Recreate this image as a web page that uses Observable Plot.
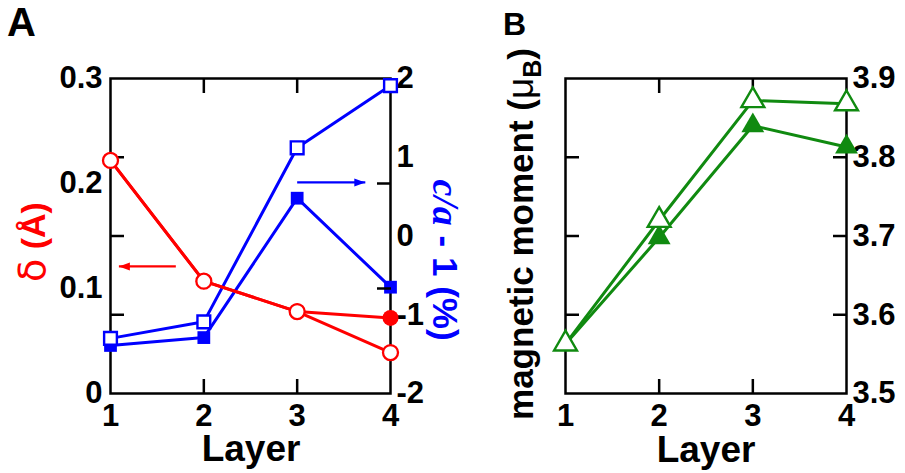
<!DOCTYPE html>
<html><head><meta charset="utf-8">
<script src="https://cdn.jsdelivr.net/npm/d3@7"></script>
<script src="https://cdn.jsdelivr.net/npm/@observablehq/plot@0.6"></script>
<style>
body{margin:0;background:#fff;}
#wrap{position:relative;width:905px;height:473px;overflow:hidden;font-family:"Liberation Sans",Arial,sans-serif;}
#wrap svg{position:absolute;top:0;}
</style></head><body>
<div id="wrap"></div>
<script>
// ---- data ----
const layers = [1, 2, 3, 4];
const deltaOpen = [0.222, 0.107, 0.078, 0.039];
const deltaFilled = [0.222, 0.107, 0.078, 0.072];
const caOpen = [-1.30, -1.09, 1.12, 1.91];
const caFilled = [-1.39, -1.29, 0.48, -0.65];
const momentOpen = [3.563, 3.720, 3.872, 3.868];
const momentFilled = [3.563, 3.698, 3.840, 3.813];
const deltaTicks = [0, 0.1, 0.2, 0.3];
const caTicks = [-2, -1, 0, 1, 2];
const momentTicks = [3.5, 3.6, 3.7, 3.8, 3.9];
const arrowDelta = [{x1: 1.70, x2: 1.09, y: 0.121}];
const arrowCA = [{x1: 3.0, x2: 3.73, y: 0.68}];

const RED = "#ff0000", BLUE = "#0000ff", GREEN = "#108a10";
const FONT = "Liberation Sans, Arial, Helvetica, sans-serif";
const TICKFS = 31;
const LW = 3;

const dDelta = layers.map((l, i) => ({layer: l, open: deltaOpen[i], filled: deltaFilled[i]}));
const dCA = layers.map((l, i) => ({layer: l, open: caOpen[i], filled: caFilled[i]}));
const dMom = layers.map((l, i) => ({layer: l, open: momentOpen[i], filled: momentFilled[i]}));

const headLeft = {draw(ctx) { ctx.moveTo(0, 0); ctx.lineTo(11, -4); ctx.lineTo(11, 4); ctx.closePath(); }};
const headRight = {draw(ctx) { ctx.moveTo(0, 0); ctx.lineTo(-11, -4); ctx.lineTo(-11, 4); ctx.closePath(); }};

const commonA = {
  width: 450, height: 473, marginLeft: 110, marginRight: 60, marginTop: 78, marginBottom: 80,
  style: {fontFamily: FONT, background: "transparent", overflow: "visible"}
};
const blank = () => "";
const axisTxt = {fontSize: TICKFS, fontWeight: "bold", label: null};

// Panel A, right scale (c/a - 1), drawn underneath
const plotCA = Plot.plot({
  ...commonA,
  x: {domain: [1, 4], label: null},
  y: {domain: [-2, 2], label: null},
  marks: [
    Plot.frame({stroke: "black", strokeWidth: 2.5}),
    Plot.axisY({ticks: caTicks, anchor: "right", tickSize: 0, tickPadding: 6, tickFormat: d => String(d), ...axisTxt}),
    Plot.axisY({ticks: [-1, 0, 1], anchor: "left", tickSize: -14, strokeWidth: 2.5, tickFormat: blank, label: null}),
    Plot.axisX({ticks: layers, anchor: "bottom", tickSize: 0, tickPadding: 10, tickFormat: d => String(d), ...axisTxt}),
    Plot.axisX({ticks: [2, 3], anchor: "bottom", tickSize: -14, strokeWidth: 2.5, tickFormat: blank, label: null}),
    Plot.axisX({ticks: [2, 3], anchor: "top", tickSize: -14, strokeWidth: 2.5, tickFormat: blank, label: null}),
    Plot.line(dCA, {x: "layer", y: "filled", stroke: BLUE, strokeWidth: LW}),
    Plot.line(dCA, {x: "layer", y: "open", stroke: BLUE, strokeWidth: LW}),
    Plot.dot(dCA, {x: "layer", y: "filled", symbol: "square", r: 7.2, fill: BLUE}),
    Plot.dot(dCA, {x: "layer", y: "open", symbol: "square", r: 7.2, fill: "white", stroke: BLUE, strokeWidth: 2.4}),
    Plot.link(arrowCA, {x1: "x1", x2: "x2", y1: "y", y2: "y", stroke: BLUE, strokeWidth: 2.2}),
    Plot.dot(arrowCA, {x: "x2", y: "y", symbol: headRight, fill: BLUE, stroke: "none", r: 5})
  ]
});

// Panel A, left scale (delta), drawn on top
const plotDelta = Plot.plot({
  ...commonA,
  x: {domain: [1, 4], label: null, axis: null},
  y: {domain: [0, 0.3], label: null},
  marks: [
    Plot.axisY({ticks: deltaTicks, anchor: "left", tickSize: 0, tickPadding: 8, tickFormat: d => d === 0 ? "0" : d.toFixed(1), ...axisTxt}),
    Plot.axisY({ticks: [0.1, 0.2], anchor: "right", tickSize: -14, strokeWidth: 2.5, tickFormat: blank, label: null}),
    Plot.line(dDelta, {x: "layer", y: "filled", stroke: RED, strokeWidth: LW}),
    Plot.line(dDelta, {x: "layer", y: "open", stroke: RED, strokeWidth: LW}),
    Plot.dot(dDelta, {x: "layer", y: "filled", r: 8, fill: RED}),
    Plot.dot(dDelta, {x: "layer", y: "open", r: 7.5, fill: "white", stroke: RED, strokeWidth: 2.3}),
    Plot.link(arrowDelta, {x1: "x1", x2: "x2", y1: "y", y2: "y", stroke: RED, strokeWidth: 2.2}),
    Plot.dot(arrowDelta, {x: "x2", y: "y", symbol: headLeft, fill: RED, stroke: "none", r: 5})
  ]
});

// Panel B
const plotMom = Plot.plot({
  width: 455, height: 473, marginLeft: 115, marginRight: 59, marginTop: 78, marginBottom: 80,
  x: {domain: [1, 4], label: null},
  y: {domain: [3.5, 3.9], label: null},
  style: {fontFamily: FONT, background: "transparent", overflow: "visible"},
  marks: [
    Plot.frame({stroke: "black", strokeWidth: 2.5}),
    Plot.axisY({ticks: momentTicks, anchor: "right", tickSize: 0, tickPadding: 6, tickFormat: d => d.toFixed(1), ...axisTxt}),
    Plot.axisY({ticks: [3.6, 3.7, 3.8], anchor: "left", tickSize: -14, strokeWidth: 2.5, tickFormat: blank, label: null}),
    Plot.axisY({ticks: [3.6, 3.7, 3.8], anchor: "right", tickSize: -14, strokeWidth: 2.5, tickFormat: blank, label: null}),
    Plot.axisX({ticks: layers, anchor: "bottom", tickSize: 0, tickPadding: 10, tickFormat: d => String(d), ...axisTxt}),
    Plot.axisX({ticks: [2, 3], anchor: "bottom", tickSize: -14, strokeWidth: 2.5, tickFormat: blank, label: null}),
    Plot.axisX({ticks: [2, 3], anchor: "top", tickSize: -14, strokeWidth: 2.5, tickFormat: blank, label: null}),
    Plot.line(dMom, {x: "layer", y: "filled", stroke: GREEN, strokeWidth: LW}),
    Plot.line(dMom, {x: "layer", y: "open", stroke: GREEN, strokeWidth: LW}),
    Plot.dot(dMom, {x: "layer", y: "filled", symbol: "triangle", r: 8.5, fill: GREEN}),
    Plot.dot(dMom, {x: "layer", y: "open", symbol: "triangle", r: 8.5, fill: "white", stroke: GREEN, strokeWidth: 2.4})
  ]
});

const wrap = document.getElementById("wrap");
function place(el, left) { el.style.left = left + "px"; el.style.top = "0px"; wrap.appendChild(el); }
place(plotCA, 0);
place(plotDelta, 0);
place(plotMom, 450);

// Text labels
const svg = d3.create("svg").attr("width", 905).attr("height", 473)
  .style("left", "0px").style("top", "0px").style("font-family", FONT).style("font-weight", "bold");
svg.append("text").attr("x", 7).attr("y", 36).attr("font-size", 40).text("A");
svg.append("text").attr("x", 503).attr("y", 35).attr("font-size", 32).text("B");
svg.append("text").attr("x", 251).attr("y", 461).attr("font-size", 37).attr("text-anchor", "middle").text("Layer");
svg.append("text").attr("x", 706).attr("y", 462).attr("font-size", 37).attr("text-anchor", "middle").text("Layer");

const tD = svg.append("text").attr("transform", "translate(45,242) rotate(-90)")
  .attr("text-anchor", "middle").attr("font-size", 34).attr("fill", RED);
tD.append("tspan").attr("font-weight", "normal").attr("font-family", "DejaVu Sans, sans-serif").attr("font-size", 38).text("δ");
tD.append("tspan").text(" (Å)");

const tC = svg.append("text").attr("transform", "translate(433,260) rotate(90)")
  .attr("text-anchor", "middle").attr("font-size", 35).attr("fill", BLUE);
tC.append("tspan").attr("font-family", "Liberation Serif, Times New Roman, serif").attr("font-style", "italic").attr("font-size", 38).text("c/a");
tC.append("tspan").text(" - 1 (%)");

const tM = svg.append("text").attr("transform", "translate(533,234) rotate(-90)")
  .attr("text-anchor", "middle").attr("font-size", 35).attr("fill", "black");
tM.append("tspan").text("magnetic moment (");
tM.append("tspan").attr("font-weight", "normal").attr("font-size", 37).text("μ");
tM.append("tspan").attr("font-size", 25).attr("dy", 8).text("B");
tM.append("tspan").attr("dy", -8).text(")");

wrap.appendChild(svg.node());
</script>
</body></html>
